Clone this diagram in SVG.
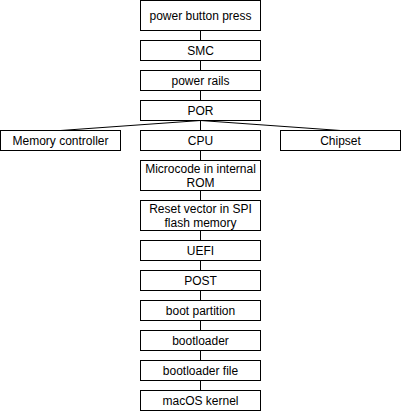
<svg xmlns="http://www.w3.org/2000/svg" width="401" height="411" viewBox="0 0 401 411">
<style>
rect{fill:#fff;stroke:#000;stroke-width:1}
text{font-family:"Liberation Sans",Arial,Helvetica,sans-serif;font-size:12px;fill:#000;text-anchor:middle}
.c line{stroke:#000;stroke-width:1}
</style>
<rect x="0" y="0" width="401" height="411" style="fill:#fff;stroke:none"/>
<g class="c" id="connectors">
<line x1="200.5" y1="30.5" x2="200.5" y2="40.5"/>
<line x1="200.5" y1="60.5" x2="200.5" y2="70.5"/>
<line x1="200.5" y1="90.5" x2="200.5" y2="100.5"/>
<line x1="200.5" y1="120.5" x2="200.5" y2="130.5"/>
<line x1="200.5" y1="120.5" x2="60.5" y2="130.5"/>
<line x1="200.5" y1="120.5" x2="340.5" y2="130.5"/>
<line x1="200.5" y1="150.5" x2="200.5" y2="160.5"/>
<line x1="200.5" y1="190.5" x2="200.5" y2="200.5"/>
<line x1="200.5" y1="230.5" x2="200.5" y2="240.5"/>
<line x1="200.5" y1="260.5" x2="200.5" y2="270.5"/>
<line x1="200.5" y1="290.5" x2="200.5" y2="300.5"/>
<line x1="200.5" y1="320.5" x2="200.5" y2="330.5"/>
<line x1="200.5" y1="350.5" x2="200.5" y2="360.5"/>
<line x1="200.5" y1="380.5" x2="200.5" y2="390.5"/>
</g>
<g id="n1"><rect x="140.5" y="0.5" width="120" height="30"/><text x="200.5" y="20">power button press</text></g>
<g id="n2"><rect x="140.5" y="40.5" width="120" height="20"/><text x="200.5" y="55">SMC</text></g>
<g id="n3"><rect x="140.5" y="70.5" width="120" height="20"/><text x="200.5" y="85">power rails</text></g>
<g id="n4"><rect x="140.5" y="100.5" width="120" height="20"/><text x="200.5" y="115">POR</text></g>
<g id="n5"><rect x="0.5" y="130.5" width="120" height="20"/><text x="60.5" y="145">Memory controller</text></g>
<g id="n6"><rect x="140.5" y="130.5" width="120" height="20"/><text x="200.5" y="145">CPU</text></g>
<g id="n7"><rect x="280.5" y="130.5" width="120" height="20"/><text x="340.5" y="145">Chipset</text></g>
<g id="n8"><rect x="140.5" y="160.5" width="120" height="30"/><text x="200.5" y="173">Microcode in internal</text><text x="200.5" y="187">ROM</text></g>
<g id="n9"><rect x="140.5" y="200.5" width="120" height="30"/><text x="200.5" y="213">Reset vector in SPI</text><text x="200.5" y="227">flash memory</text></g>
<g id="n10"><rect x="140.5" y="240.5" width="120" height="20"/><text x="200.5" y="255">UEFI</text></g>
<g id="n11"><rect x="140.5" y="270.5" width="120" height="20"/><text x="200.5" y="285">POST</text></g>
<g id="n12"><rect x="140.5" y="300.5" width="120" height="20"/><text x="200.5" y="315">boot partition</text></g>
<g id="n13"><rect x="140.5" y="330.5" width="120" height="20"/><text x="200.5" y="345">bootloader</text></g>
<g id="n14"><rect x="140.5" y="360.5" width="120" height="20"/><text x="200.5" y="375">bootloader file</text></g>
<g id="n15"><rect x="140.5" y="390.5" width="120" height="20"/><text x="200.5" y="405">macOS kernel</text></g>
</svg>
